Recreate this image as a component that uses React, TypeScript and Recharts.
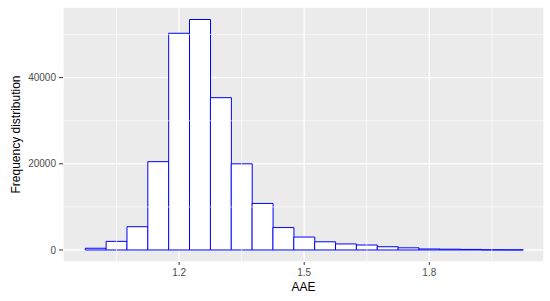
import {
  Bar,
  BarChart,
  CartesianGrid,
  ReferenceLine,
  XAxis,
  YAxis,
} from 'recharts';

// histogram bins (centre of each 0.05-wide bin) and their counts
const binCenters = [
  1.0, 1.05, 1.1, 1.15, 1.2, 1.25, 1.3, 1.35, 1.4, 1.45, 1.5, 1.55, 1.6, 1.65, 1.7,
  1.75, 1.8, 1.85, 1.9, 1.95, 2.0,
];
const counts = [
  400, 2000, 5400, 20500, 50300, 53500, 35350, 20000, 10800, 5200, 3000, 1900, 1400,
  1150, 750, 500, 230, 180, 130, 40, 25,
];

const xTicks = [1.2, 1.5, 1.8];
const yTicks = [0, 20000, 40000];
const xMinor = [1.05, 1.35, 1.65, 1.95];
const yMinor = [10000, 30000, 50000];

const data = binCenters.map((aae, i) => ({ aae, count: counts[i] }));

const tickStyle = { fill: '#4D4D4D', fontSize: 10 };

export default function App() {
  return (
    <div style={{ position: 'absolute', left: 0, top: 0, fontFamily: '"Liberation Sans", Arial, sans-serif' }}>
      <BarChart
        width={550}
        height={301}
        data={data}
        barCategoryGap={0}
        margin={{ top: 7, right: 6, bottom: 0, left: 0 }}
      >
        <CartesianGrid stroke="#FFFFFF" strokeWidth={1.3} fill="#EBEBEB" fillOpacity={1} />
        {xMinor.map((v) => (
          <ReferenceLine key={`x${v}`} x={v} stroke="#FFFFFF" strokeWidth={0.6} />
        ))}
        {yMinor.map((v) => (
          <ReferenceLine key={`y${v}`} y={v} stroke="#FFFFFF" strokeWidth={0.6} />
        ))}
        <XAxis
          dataKey="aae"
          type="number"
          domain={[0.9216, 2.075]}
          allowDataOverflow
          ticks={xTicks}
          tickFormatter={(v: number) => v.toFixed(1)}
          axisLine={false}
          tickLine={{ stroke: '#333333' }}
          tickSize={3}
          tickMargin={4}
          tick={tickStyle}
          height={39}
          label={{ value: 'AAE', position: 'insideBottom', offset: 10, fill: '#000000', fontSize: 12 }}
        />
        <YAxis
          type="number"
          domain={[-2790, 56400]}
          allowDataOverflow
          ticks={yTicks}
          axisLine={false}
          tickLine={{ stroke: '#333333' }}
          tickSize={4}
          tickMargin={3}
          tick={tickStyle}
          width={63}
          label={{
            value: 'Frequency distribution',
            angle: -90,
            position: 'insideLeft',
            offset: 16,
            fill: '#000000',
            fontSize: 12,
            style: { textAnchor: 'middle' },
          }}
        />
        <Bar dataKey="count" fill="#FFFFFF" stroke="#0000FF" strokeWidth={1} isAnimationActive={false} />
      </BarChart>
    </div>
  );
}
